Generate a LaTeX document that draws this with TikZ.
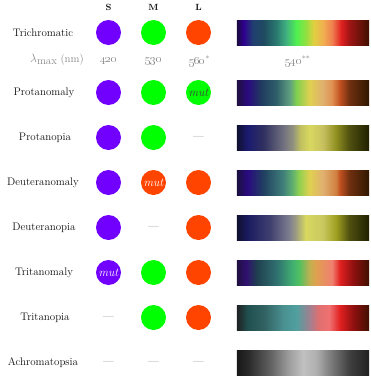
\documentclass[tikz,border=0pt]{standalone}
\usetikzlibrary{shadings}
% cone colours
\definecolor{coneS}{HTML}{7100FF}
\definecolor{coneM}{HTML}{00FF00}
\definecolor{coneL}{HTML}{FF4400}
\definecolor{txt}{HTML}{111111}
\definecolor{greytxt}{HTML}{8A8A8A}
% trichromatic
\definecolor{trA}{HTML}{1A0A40}\definecolor{trB}{HTML}{300090}\definecolor{trC}{HTML}{204070}
\definecolor{trD}{HTML}{1F4A60}\definecolor{trE}{HTML}{2A7A70}\definecolor{trF}{HTML}{40B080}
\definecolor{trG}{HTML}{50F050}\definecolor{trH}{HTML}{90E040}\definecolor{trI}{HTML}{E0D040}
\definecolor{trJ}{HTML}{F0B050}\definecolor{trK}{HTML}{F08050}\definecolor{trL}{HTML}{E02020}
\definecolor{trM}{HTML}{A01515}\definecolor{trN}{HTML}{401000}
\pgfdeclarehorizontalshading{tri}{100bp}{color(0bp)=(trA); color(25bp)=(trA); color(27.5bp)=(trB);
 color(31bp)=(trC); color(35bp)=(trD); color(40bp)=(trE); color(43.5bp)=(trF); color(47.5bp)=(trG);
 color(51bp)=(trH); color(54bp)=(trI); color(57.5bp)=(trJ); color(61bp)=(trK); color(64.5bp)=(trL);
 color(67.5bp)=(trM); color(75bp)=(trN); color(100bp)=(trN)}
% protanomaly
\definecolor{paA}{HTML}{201040}\definecolor{paB}{HTML}{2A0A80}\definecolor{paC}{HTML}{203A60}
\definecolor{paD}{HTML}{30606A}\definecolor{paE}{HTML}{60A080}\definecolor{paF}{HTML}{80D050}
\definecolor{paG}{HTML}{E0D050}\definecolor{paH}{HTML}{E0B070}\definecolor{paI}{HTML}{E09050}
\definecolor{paJ}{HTML}{C05020}\definecolor{paK}{HTML}{703010}\definecolor{paL}{HTML}{301800}
\pgfdeclarehorizontalshading{proanom}{100bp}{color(0bp)=(paA); color(25bp)=(paA); color(29bp)=(paB);
 color(34bp)=(paC); color(40bp)=(paD); color(45bp)=(paE); color(47.5bp)=(paF); color(52.5bp)=(paG);
 color(57.5bp)=(paH); color(61bp)=(paI); color(64bp)=(paJ); color(67.5bp)=(paK); color(75bp)=(paL);
 color(100bp)=(paL)}
% protanopia
\definecolor{ppA}{HTML}{101030}\definecolor{ppB}{HTML}{1A1A70}\definecolor{ppC}{HTML}{303060}
\definecolor{ppD}{HTML}{707080}\definecolor{ppE}{HTML}{909080}\definecolor{ppF}{HTML}{C0C060}
\definecolor{ppG}{HTML}{D8D860}\definecolor{ppH}{HTML}{C8C060}\definecolor{ppI}{HTML}{909020}
\definecolor{ppJ}{HTML}{505010}\definecolor{ppK}{HTML}{202000}
\pgfdeclarehorizontalshading{proanop}{100bp}{color(0bp)=(ppA); color(25bp)=(ppA); color(29bp)=(ppB);
 color(35bp)=(ppC); color(42.5bp)=(ppD); color(46bp)=(ppE); color(49bp)=(ppF); color(52.5bp)=(ppG);
 color(57.5bp)=(ppH); color(62.5bp)=(ppI); color(67.5bp)=(ppJ); color(75bp)=(ppK); color(100bp)=(ppK)}
% deuteranomaly
\definecolor{daA}{HTML}{1A1040}\definecolor{daB}{HTML}{2A0A80}\definecolor{daC}{HTML}{204060}
\definecolor{daD}{HTML}{40807A}\definecolor{daE}{HTML}{60B070}\definecolor{daF}{HTML}{90D050}
\definecolor{daG}{HTML}{E0D050}\definecolor{daH}{HTML}{E0B070}\definecolor{daI}{HTML}{D08040}
\definecolor{daJ}{HTML}{C05020}\definecolor{daK}{HTML}{703010}\definecolor{daL}{HTML}{301800}
\pgfdeclarehorizontalshading{deuanom}{100bp}{color(0bp)=(daA); color(25bp)=(daA); color(29bp)=(daB);
 color(35bp)=(daC); color(42.5bp)=(daD); color(46bp)=(daE); color(48.5bp)=(daF); color(52.5bp)=(daG);
 color(57.5bp)=(daH); color(62.5bp)=(daI); color(64bp)=(daJ); color(67.5bp)=(daK); color(75bp)=(daL);
 color(100bp)=(daL)}
% deuteranopia
\definecolor{dpA}{HTML}{101030}\definecolor{dpB}{HTML}{1A1A60}\definecolor{dpC}{HTML}{404070}
\definecolor{dpD}{HTML}{808090}\definecolor{dpE}{HTML}{A0A080}\definecolor{dpF}{HTML}{D8D860}
\definecolor{dpG}{HTML}{C8C860}\definecolor{dpH}{HTML}{A0A020}\definecolor{dpI}{HTML}{505010}
\definecolor{dpJ}{HTML}{202000}
\pgfdeclarehorizontalshading{deuanop}{100bp}{color(0bp)=(dpA); color(25bp)=(dpA); color(29bp)=(dpB);
 color(37.5bp)=(dpC); color(45bp)=(dpD); color(47.5bp)=(dpE); color(51bp)=(dpF); color(57.5bp)=(dpG);
 color(62.5bp)=(dpH); color(67.5bp)=(dpI); color(75bp)=(dpJ); color(100bp)=(dpJ)}
% tritanomaly
\definecolor{taA}{HTML}{201040}\definecolor{taB}{HTML}{301070}\definecolor{taC}{HTML}{204050}
\definecolor{taD}{HTML}{307070}\definecolor{taE}{HTML}{40B070}\definecolor{taF}{HTML}{50C060}
\definecolor{taG}{HTML}{C0B050}\definecolor{taH}{HTML}{E0A050}\definecolor{taI}{HTML}{F08070}
\definecolor{taJ}{HTML}{E02020}\definecolor{taK}{HTML}{901010}\definecolor{taL}{HTML}{401000}
\pgfdeclarehorizontalshading{trianom}{100bp}{color(0bp)=(taA); color(25bp)=(taA); color(28.5bp)=(taB);
 color(32.5bp)=(taC); color(40bp)=(taD); color(46bp)=(taE); color(48.5bp)=(taF); color(52.5bp)=(taG);
 color(55bp)=(taH); color(61bp)=(taI); color(64bp)=(taJ); color(69bp)=(taK); color(75bp)=(taL);
 color(100bp)=(taL)}
% tritanopia
\definecolor{tpA}{HTML}{202020}\definecolor{tpB}{HTML}{205050}\definecolor{tpC}{HTML}{306060}
\definecolor{tpD}{HTML}{4A9090}\definecolor{tpE}{HTML}{50A0A0}\definecolor{tpF}{HTML}{A08090}
\definecolor{tpG}{HTML}{E07070}\definecolor{tpH}{HTML}{F07070}\definecolor{tpI}{HTML}{E02020}
\definecolor{tpJ}{HTML}{901010}\definecolor{tpK}{HTML}{401000}
\pgfdeclarehorizontalshading{trianop}{100bp}{color(0bp)=(tpA); color(25bp)=(tpA); color(29bp)=(tpB);
 color(35bp)=(tpC); color(42.5bp)=(tpD); color(47.5bp)=(tpE); color(52.5bp)=(tpF); color(56bp)=(tpG);
 color(60bp)=(tpH); color(64bp)=(tpI); color(69bp)=(tpJ); color(75bp)=(tpK); color(100bp)=(tpK)}
% achromatopsia
\definecolor{acA}{HTML}{181818}\definecolor{acB}{HTML}{282828}\definecolor{acC}{HTML}{606060}
\definecolor{acD}{HTML}{A0A0A0}\definecolor{acE}{HTML}{C0C0C0}\definecolor{acF}{HTML}{B0B0B0}
\definecolor{acG}{HTML}{808080}\definecolor{acH}{HTML}{404040}\definecolor{acI}{HTML}{202020}
\pgfdeclarehorizontalshading{achro}{100bp}{color(0bp)=(acA); color(25bp)=(acA); color(29bp)=(acB);
 color(37.5bp)=(acC); color(45bp)=(acD); color(50bp)=(acE); color(55bp)=(acF); color(60bp)=(acG);
 color(67.5bp)=(acH); color(75bp)=(acI); color(100bp)=(acI)}

\begin{document}
\begin{tikzpicture}[x=1bp,y=-1bp,
  lbl/.style={font=\fontsize{11}{13}\selectfont, text=txt, inner sep=0},
  hdr/.style={font=\fontsize{9}{11}\selectfont\bfseries, text=txt, inner sep=0},
  num/.style={font=\fontsize{11}{13}\selectfont, text=greytxt, inner sep=0},
  cone/.style={circle, minimum size=25bp, inner sep=0, font=\fontsize{12}{14}\selectfont\itshape},
  sc/.style={cone, fill=coneS, text=white},
  mc/.style={cone, fill=coneM, text=black!75},
  lc/.style={cone, fill=coneL, text=white},
  absent/.style={font=\fontsize{11}{13}\selectfont, text=black!70, inner sep=0},
  bar/.style={rectangle, minimum width=132bp, minimum height=25bp, inner sep=0}]
\useasboundingbox (0,0) rectangle (371,376);

% headers
\node[hdr] (hS) at (108.5,7) {S};
\node[hdr] (hM) at (153.5,7) {M};
\node[hdr] (hL) at (198.5,7) {L};

% Trichromatic
\node[lbl] (trl) at (43,32.5) {Trichromatic};
\node[sc] (trS) at (108.5,32.5) {};
\node[mc] (trM) at (153.5,32.5) {};
\node[lc] (trL) at (198.5,32.5) {};
\node[bar, shading=tri] (trb) at (303,32.5) {};

% lambda max
\node[num] (lml) at (57,60) {{\fontsize{13}{13}\selectfont$\lambda$}\raisebox{-1.5bp}{max} (nm)};
\node[num] (lmS) at (108.5,61) {\oldstylenums{420}};
\node[num] (lmM) at (153.5,61) {\oldstylenums{530}};
\node[num] (lmL) at (199.5,61) {\oldstylenums{560}\raisebox{-1bp}{\textsuperscript{*}}};
\node[num] (lmb) at (298,61) {\oldstylenums{540}\raisebox{-1bp}{\textsuperscript{**}}};

% Protanomaly
\node[lbl] (pal) at (44,92.5) {Protanomaly};
\node[sc] (paS) at (108.5,92.5) {};
\node[mc] (paM) at (153.5,92.5) {};
\node[mc] (paL) at (198.5,92.5) {mut};
\node[bar, shading=proanom] (pab) at (303,92.5) {};

% Protanopia
\node[lbl] (ppl) at (45,137.5) {Protanopia};
\node[sc] (ppS) at (108.5,137.5) {};
\node[mc] (ppM) at (153.5,137.5) {};
\node[absent] (ppL) at (198.5,137.5) {\textemdash};
\node[bar, shading=proanop] (ppb) at (303,137.5) {};

% Deuteranomaly
\node[lbl] (dal) at (43,182.5) {Deuteranomaly};
\node[sc] (daS) at (108.5,182.5) {};
\node[lc] (daM) at (153.5,182.5) {mut};
\node[lc] (daL) at (198.5,182.5) {};
\node[bar, shading=deuanom] (dab) at (303,182.5) {};

% Deuteranopia
\node[lbl] (dpl) at (44,227.5) {Deuteranopia};
\node[sc] (dpS) at (108.5,227.5) {};
\node[absent] (dpM) at (153.5,227.5) {\textemdash};
\node[lc] (dpL) at (198.5,227.5) {};
\node[bar, shading=deuanop] (dpb) at (303,227.5) {};

% Tritanomaly
\node[lbl] (tal) at (44,272.5) {Tritanomaly};
\node[sc] (taS) at (108.5,272.5) {mut};
\node[mc] (taM) at (153.5,272.5) {};
\node[lc] (taL) at (198.5,272.5) {};
\node[bar, shading=trianom] (tab) at (303,272.5) {};

% Tritanopia
\node[lbl] (tpl) at (45,317.5) {Tritanopia};
\node[absent] (tpS) at (108.5,317.5) {\textemdash};
\node[mc] (tpM) at (153.5,317.5) {};
\node[lc] (tpL) at (198.5,317.5) {};
\node[bar, shading=trianop] (tpb) at (303,317.5) {};

% Achromatopsia
\node[lbl] (acl) at (43,362.5) {Achromatopsia};
\node[absent] (acS) at (108.5,362.5) {\textemdash};
\node[absent] (acM) at (153.5,362.5) {\textemdash};
\node[absent] (acL) at (198.5,362.5) {\textemdash};
\node[bar, shading=achro] (acb) at (303,362.5) {};
\end{tikzpicture}
\end{document}
